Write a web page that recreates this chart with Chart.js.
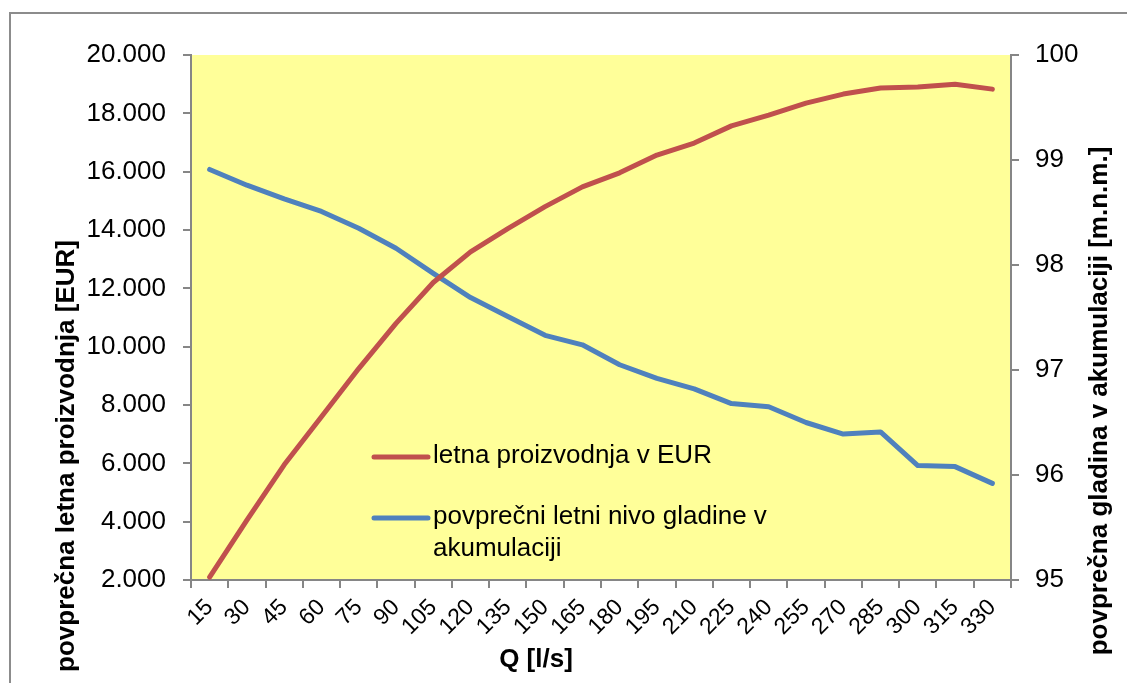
<!DOCTYPE html>
<html>
<head>
<meta charset="utf-8">
<script src="https://cdn.jsdelivr.net/npm/chart.js@4/dist/chart.umd.min.js"></script>
<style>
  html, body { margin: 0; padding: 0; background: #fff; overflow: hidden; }
  #wrap { position: relative; width: 1127px; height: 683px; }
  #frame { position: absolute; left: 9px; top: 12px; width: 1300px; height: 900px; border: 2px solid #8c8c8c; box-sizing: border-box; pointer-events: none; }
  canvas { position: absolute; left: 0; top: 0; }
</style>
</head>
<body>
<div id="wrap">
  <canvas id="chart" width="1127" height="683"></canvas>
  <div id="frame"></div>
</div>
<script>
// Q [l/s] categories
const pretok = [15, 30, 45, 60, 75, 90, 105, 120, 135, 150, 165, 180, 195, 210, 225, 240, 255, 270, 285, 300, 315, 330];
// letna proizvodnja v EUR (left axis)
const proizvodnja = [2100, 4050, 5950, 7600, 9250, 10800, 12200, 13250, 14050, 14800, 15480, 15960, 16570, 16980, 17570, 17940, 18350, 18660, 18870, 18900, 19000, 18830];
// povprecni letni nivo gladine (right axis, m.n.m.)
const gladina = [98.91, 98.76, 98.63, 98.51, 98.35, 98.16, 97.92, 97.69, 97.51, 97.33, 97.24, 97.05, 96.92, 96.82, 96.68, 96.65, 96.50, 96.39, 96.41, 96.09, 96.08, 95.92];

const labelRed = "letna proizvodnja v EUR";
const labelBlue = ["povprečni letni nivo gladine v", "akumulaciji"];

const titleLeft = "povprečna letna proizvodnja [EUR]";
const titleRight = "povprečna gladina v akumulaciji [m.n.m.]";
const titleX = "Q [l/s]";

const FONT = "'Liberation Sans', Arial, sans-serif";
const AXIS = "#868686";

// yellow plot background
const plotBg = {
  id: "plotBg",
  beforeDraw(chart) {
    const a = chart.chartArea;
    const ctx = chart.ctx;
    ctx.save();
    ctx.fillStyle = "#FFFF99";
    ctx.fillRect(a.left, a.top, a.right - a.left, a.bottom - a.top);
    ctx.restore();
  },
};

// axis titles and legend drawn by hand (Excel style)
const extras = {
  id: "extras",
  afterDraw(chart) {
    const ctx = chart.ctx;
    const a = chart.chartArea;
    ctx.save();
    ctx.fillStyle = "#000";
    ctx.font = "bold 26px " + FONT;
    ctx.textAlign = "center";
    ctx.textBaseline = "middle";
    // left title
    ctx.save();
    ctx.translate(67, 456);
    ctx.rotate(-Math.PI / 2);
    ctx.fillText(titleLeft, 0, 0);
    ctx.restore();
    // right title
    ctx.save();
    ctx.translate(1100, 401);
    ctx.rotate(-Math.PI / 2);
    ctx.fillText(titleRight, 0, 0);
    ctx.restore();
    // x title
    ctx.fillText(titleX, 536, 660);

    // legend
    const ds = chart.data.datasets;
    const lx = a.left + 183;
    ctx.lineWidth = 5;
    ctx.lineCap = "round";
    ctx.font = "26px " + FONT;
    ctx.textAlign = "left";
    ctx.strokeStyle = ds[0].borderColor;
    ctx.beginPath();
    ctx.moveTo(lx, 457);
    ctx.lineTo(lx + 54, 457);
    ctx.stroke();
    ctx.fillText(labelRed, lx + 59, 456);
    ctx.strokeStyle = ds[1].borderColor;
    ctx.beginPath();
    ctx.moveTo(lx, 518);
    ctx.lineTo(lx + 54, 518);
    ctx.stroke();
    ctx.fillText(labelBlue[0], lx + 59, 517);
    ctx.fillText(labelBlue[1], lx + 59, 549);
    ctx.restore();
  },
};

new Chart("chart", {
  type: "line",
  data: {
    labels: pretok,
    datasets: [
      {
        label: labelRed,
        data: proizvodnja,
        borderColor: "#C0504D",
        borderWidth: 5,
        borderCapStyle: "round",
        borderJoinStyle: "round",
        pointRadius: 0,
        tension: 0,
        yAxisID: "y",
      },
      {
        label: labelBlue.join(" "),
        data: gladina,
        borderColor: "#4F81BD",
        borderWidth: 5,
        borderCapStyle: "round",
        borderJoinStyle: "round",
        pointRadius: 0,
        tension: 0,
        yAxisID: "y2",
      },
    ],
  },
  options: {
    responsive: false,
    animation: false,
    layout: { padding: { top: 55, left: 0, right: 0, bottom: 0 } },
    plugins: {
      legend: { display: false },
      tooltip: { enabled: false },
    },
    scales: {
      x: {
        offset: true,
        grid: { offset: true, drawOnChartArea: false, drawTicks: true, tickLength: 8, color: AXIS, lineWidth: 2 },
        border: { color: AXIS, width: 2 },
        ticks: {
          autoSkip: false,
          minRotation: 45,
          maxRotation: 45,
          padding: 6,
          color: "#000",
          font: { family: FONT, size: 23 },
        },
        afterFit(scale) { scale.height = 103; },
      },
      y: {
        position: "left",
        min: 2000,
        max: 20000,
        grid: { drawOnChartArea: false, drawTicks: true, tickLength: 8, color: AXIS, lineWidth: 2 },
        border: { color: AXIS, width: 2 },
        ticks: {
          stepSize: 2000,
          padding: 17,
          color: "#000",
          font: { family: FONT, size: 26 },
          callback: (v) => v.toLocaleString("de-DE", { minimumFractionDigits: 3 }).replace(",000", "").replace(/^(\d+),(\d{3})$/, "$1.$2"),
        },
        afterFit(scale) { scale.width = 191; },
      },
      y2: {
        position: "right",
        min: 95,
        max: 100,
        grid: { drawOnChartArea: false, drawTicks: true, tickLength: 8, color: AXIS, lineWidth: 2 },
        border: { color: AXIS, width: 2 },
        ticks: {
          stepSize: 1,
          padding: 16,
          color: "#000",
          font: { family: FONT, size: 26 },
        },
        afterFit(scale) { scale.width = 116; },
      },
    },
  },
  plugins: [plotBg, extras],
});
</script>
</body>
</html>
